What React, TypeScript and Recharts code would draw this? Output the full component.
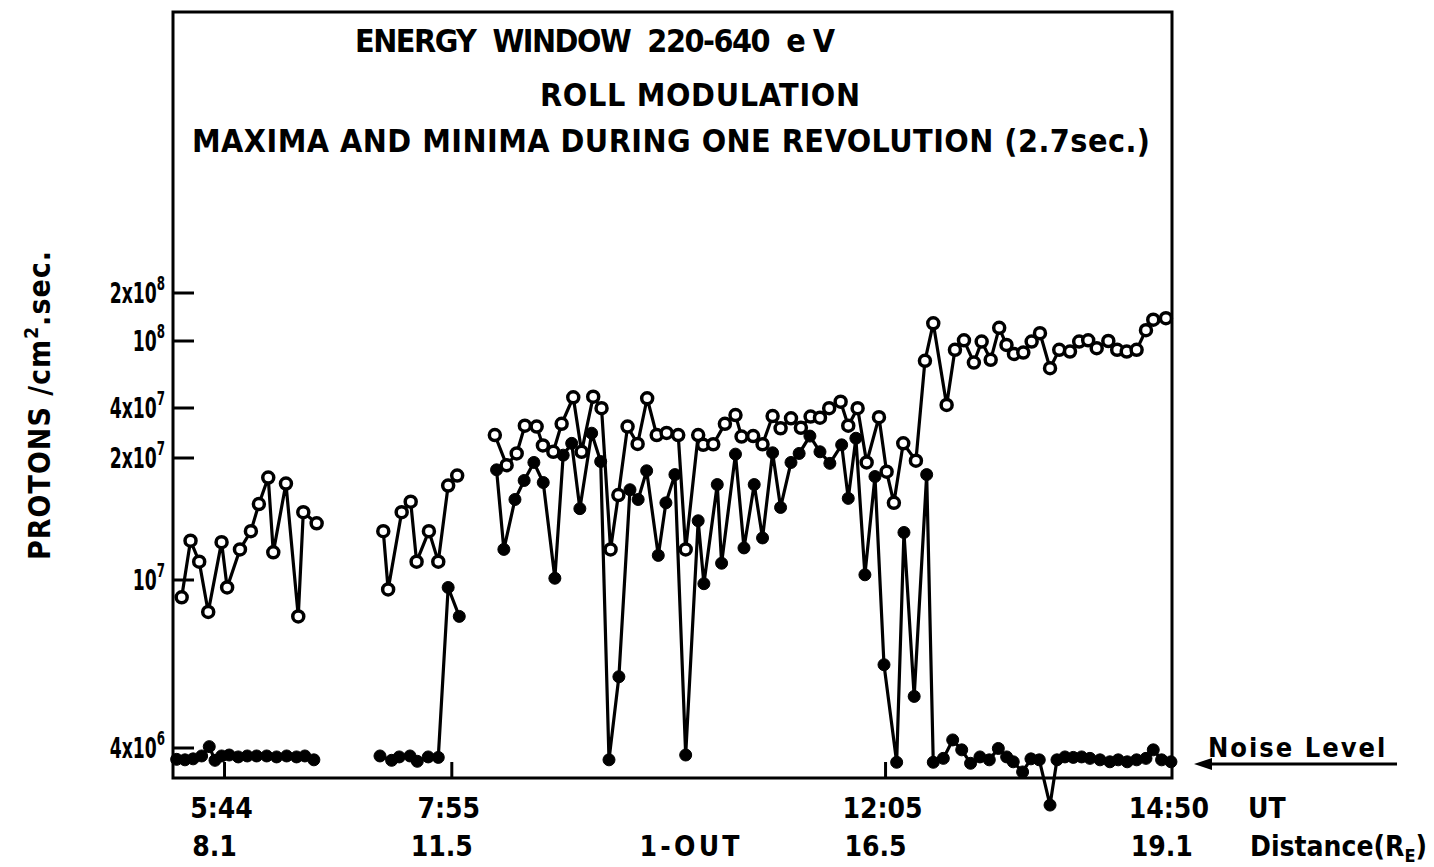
import { LineChart, Line, XAxis, YAxis, ReferenceArea, ReferenceLine } from 'recharts';

// flux in units of 10^6 protons / cm^2 sec, time in minutes UT
const MAX_TIME = [
  319.3, 324.4, 329.4, 334.6, 342.3, 345.5, 352.9, 359.2, 363.8, 369.2, 372.1, 379.4, 386.5, 389.4, 397.1,
  415,
  435.5, 438.3, 446.1, 451.3, 454.7, 461.8, 467.2, 472.9, 478.1,
  489,
  499.8, 506.6, 512.4, 517.1, 523.9, 527.5, 533.5, 538.3, 545.0, 549.8, 556.5, 561.3, 566.5, 571.0, 576.3,
  582.1, 587.6, 593.1, 598.8, 605.5, 609.8, 617.0, 619.9, 625.7, 632.4, 638.5, 642.0, 648.7, 654.1, 659.9,
  664.5, 670.5, 676.2, 681.8, 687.2, 692.5, 699.1, 703.5, 708.9, 714.1, 721.2, 725.6, 729.8, 735.2, 742.5,
  747.7, 752.5, 760.2, 765.0, 770.2, 775.9, 780.4, 785.6, 790.5, 794.7, 799.0, 804.4, 809.2, 814.0, 819.8,
  825.1, 831.3, 836.6, 841.8, 846.7, 853.4, 858.5, 864.0, 869.7, 875.1, 879.3, 886.6,
];
const MAX_FLUX = [
  9.1, 12.5, 11.1, 8.4, 12.4, 9.6, 11.9, 13.2, 15.4, 17.9, 11.7, 17.3, 8.2, 14.7, 13.8,
  null,
  13.2, 9.5, 14.7, 15.6, 11.1, 13.2, 11.1, 17.1, 18.1,
  null,
  27.5, 19.2, 21.3, 31.3, 30.9, 23.8, 21.8, 32.1, 46.3, 21.8, 46.7, 39.9, 11.9, 16.2, 30.9,
  24.3, 45.7, 27.5, 28.3, 27.5, 11.9, 27.5, 24.0, 24.2, 32.1, 36.3, 26.9, 27.1, 24.2, 35.8,
  30.2, 34.7, 30.4, 35.5, 35.0, 39.9, 43.6, 31.3, 39.9, 19.5, 35.2, 18.5, 15.5, 24.5, 19.7,
  76.2, 129, 41.7, 88.6, 101, 74.4, 99.2, 77.3, 121, 94.8, 83.8, 85.4, 99.2, 112, 68.9,
  88.6, 86.5, 99.2, 101, 90.7, 100, 88.6, 86.5, 88.6, 117, 136, 139,
];

const MIN_TIME = [
  316.4, 321.2, 325.9, 330.8, 335.2, 338.5, 342.3, 346.7, 351.9, 357.1, 362.5, 368.3, 374.0, 379.8, 385.5, 390.3, 395.5,
  415,
  433.6, 440.3, 444.7, 450.9, 455.1, 461.4, 467.2, 472.9, 479.3,
  489,
  500.8, 505.0, 511.4, 516.7, 522.3, 527.7, 534.4, 539.2, 544.1, 548.8, 555.6, 560.8, 565.6, 571.3, 577.7,
  582.4, 587.3, 594.0, 598.4, 603.6, 609.8, 617.0, 620.3, 628.0, 630.5, 638.5, 643.4, 649.3, 654.1, 659.9,
  664.5, 670.5, 675.2, 681.4, 687.2, 692.9, 699.7, 703.5, 707.9, 713.1, 718.9, 724.1, 731.4, 735.6, 741.5,
  748.7, 752.5, 758.3, 763.7, 768.9, 774.0, 779.4, 784.8, 790.0, 794.8, 798.6, 804.0, 808.8, 813.6, 819.8,
  823.8, 828.4, 833.2, 838.0, 842.8, 848.6, 854.3, 859.1, 864.3, 869.7, 875.1, 879.3, 884.1, 889.5,
];
const MIN_FLUX = [
  3.76, 3.75, 3.77, 3.83, 4.03, 3.74, 3.83, 3.85, 3.81, 3.83, 3.83, 3.83, 3.81, 3.83, 3.81, 3.83, 3.75,
  null,
  3.83, 3.74, 3.81, 3.83, 3.72, 3.81, 3.8, 9.6, 8.2,
  null,
  18.7, 11.9, 15.8, 17.6, 19.5, 17.4, 10.1, 20.8, 24.5, 15.0, 28.2, 19.6, 3.75, 5.9, 16.7,
  15.8, 18.6, 11.5, 15.5, 18.2, 3.85, 14.0, 9.8, 17.2, 11.0, 21.1, 12.0, 17.2, 12.7, 21.5,
  15.1, 19.5, 21.3, 27.1, 21.8, 19.4, 24.0, 15.9, 26.3, 10.3, 18.0, 6.3, 3.7, 13.1, 5.3,
  18.2, 3.7, 3.78, 4.18, 3.96, 3.68, 3.81, 3.75, 3.99, 3.81, 3.71, 3.51, 3.77, 3.75, 2.93,
  3.75, 3.81, 3.8, 3.81, 3.78, 3.75, 3.71, 3.75, 3.71, 3.75, 3.78, 3.96, 3.75, 3.71,
];

const FLUX_TICKS = [4, 10, 20, 40, 100, 200];
const TIME_TICKS = [344, 475, 612, 725, 890];
const TIME_LABELS = ['5:44', '7:55', '', '12:05', '14:50'];
const DIST_LABELS = ['8.1', '11.5', '1-OUT', '16.5', '19.1'];
const MARKED_TIMES = [344, 475, 725];

// the paper's flux axis is log-like but not uniform: where each tick sits (frame = 0..766)
const AXIS_STOPS = [30, 198, 320, 370, 437, 485];
const FRAME_TOP = 766;

function toAxis(v: number) {
  const lv = Math.log10(v);
  const logs = FLUX_TICKS.map((f) => Math.log10(f));
  let i = 0;
  while (i < logs.length - 2 && lv > logs[i + 1]) i++;
  const f = (lv - logs[i]) / (logs[i + 1] - logs[i]);
  return AXIS_STOPS[i] + f * (AXIS_STOPS[i + 1] - AXIS_STOPS[i]);
}

const maxData = MAX_TIME.map((t, i) => ({ t, y: MAX_FLUX[i] == null ? null : toAxis(MAX_FLUX[i] as number) }));
const minData = MIN_TIME.map((t, i) => ({ t, y: MIN_FLUX[i] == null ? null : toAxis(MIN_FLUX[i] as number) }));

const FONT = '"DejaVu Sans Condensed", "Liberation Sans Narrow", "DejaVu Sans", sans-serif';
const T_MIN = 314.3;
const T_MAX = 890.1;

function FluxTick({ x, y, payload }: any) {
  const i = AXIS_STOPS.findIndex((p) => Math.abs(p - payload.value) < 0.01);
  if (i < 0) return <g />;
  const v = FLUX_TICKS[i] * 1e6;
  const exp = Math.floor(Math.log10(v) + 1e-9);
  const mant = Math.round(v / Math.pow(10, exp));
  return (
    <g>
      <line x1={x} x2={x + 21} y1={y} y2={y} stroke="#000" strokeWidth={3} />
      {/* the hand lettering is narrow, so squeeze the label horizontally */}
      <text
        transform={`translate(${x - 8},${y + 10}) scale(0.66,1)`}
        textAnchor="end"
        fontFamily={FONT}
        fontWeight="bold"
        fontSize={29}
        fill="#000"
      >
        {mant === 1 ? '10' : `${mant}x10`}
        <tspan dy={-13} fontSize={20}>{exp}</tspan>
      </text>
    </g>
  );
}

function TimeTick({ x, y, payload }: any) {
  const i = TIME_TICKS.indexOf(payload.value);
  if (i < 0) return <g />;
  const time = TIME_LABELS[i];
  const style = { fontFamily: FONT, fontWeight: 'bold' as const, fontSize: 28, fill: '#000' };
  return (
    <g>
      {time && (
        <text x={x - 3} y={y + 6} textAnchor="middle" {...style}>{time}</text>
      )}
      {time ? (
        <text x={x - 10} y={y + 44} textAnchor="middle" {...style}>{DIST_LABELS[i]}</text>
      ) : (
        <text x={x} y={y + 44} textAnchor="middle" textLength={100} lengthAdjust="spacing" {...style}>
          {DIST_LABELS[i]}
        </text>
      )}
    </g>
  );
}

export default function App() {
  const txt = { fontFamily: FONT, fontWeight: 'bold' as const, fill: '#000' };
  return (
    <div style={{ position: 'absolute', left: 0, top: 0, width: 1434, height: 867, background: '#fff' }}>
      <LineChart width={1434} height={867} margin={{ top: 12, right: 262, bottom: 54, left: 172 }}>
        <XAxis
          type="number"
          dataKey="t"
          domain={[T_MIN, T_MAX]}
          ticks={TIME_TICKS}
          interval={0}
          height={1}
          tickSize={0}
          tickMargin={0}
          axisLine={false}
          tickLine={false}
          tick={<TimeTick />}
        />
        <YAxis
          type="number"
          domain={[-34, FRAME_TOP]}
          ticks={FLUX_TICKS.map(toAxis)}
          interval={0}
          width={1}
          tickSize={0}
          tickMargin={0}
          axisLine={false}
          tickLine={false}
          tick={<FluxTick />}
        />
        <ReferenceArea x1={T_MIN} x2={T_MAX} y1={0} y2={FRAME_TOP} fill="none" stroke="#000" strokeWidth={3} ifOverflow="visible" />
        {MARKED_TIMES.map((t) => (
          <ReferenceLine key={t} segment={[{ x: t, y: 0 }, { x: t, y: 16 }]} stroke="#000" strokeWidth={3} />
        ))}
        <Line
          data={maxData}
          dataKey="y"
          type="linear"
          stroke="#000"
          strokeWidth={3.2}
          dot={{ r: 5.5, fill: '#fff', stroke: '#000', strokeWidth: 3.5 }}
          activeDot={false}
          isAnimationActive={false}
        />
        <Line
          data={minData}
          dataKey="y"
          type="linear"
          stroke="#000"
          strokeWidth={3.2}
          dot={{ r: 6, fill: '#000', stroke: '#000', strokeWidth: 1 }}
          activeDot={false}
          isAnimationActive={false}
        />
      </LineChart>
      <svg width={1434} height={867} style={{ position: 'absolute', left: 0, top: 0, pointerEvents: 'none' }}>
        <text x={355} y={52} fontSize={32} textLength={480} lengthAdjust="spacing" style={{ whiteSpace: 'pre' }} {...txt}>
          ENERGY  WINDOW  220-640  e V
        </text>
        <text x={540} y={106} fontSize={32} textLength={320} lengthAdjust="spacing" {...txt}>ROLL MODULATION</text>
        <text x={192} y={152} fontSize={32} textLength={958} lengthAdjust="spacing" {...txt}>
          MAXIMA AND MINIMA DURING ONE REVOLUTION (2.7sec.)
        </text>
        <text transform="translate(50,405) rotate(-90)" textAnchor="middle" fontSize={30} letterSpacing={1} {...txt}>
          PROTONS /cm<tspan dy={-12} fontSize={19}>2</tspan><tspan dy={12}>.sec.</tspan>
        </text>
        <text x={1248} y={818} fontSize={28} {...txt}>UT</text>
        <text x={1250} y={856} fontSize={28} {...txt}>
          Distance(R<tspan dy={6} fontSize={18}>E</tspan><tspan dy={-6}>)</tspan>
        </text>
        <text x={1208} y={757} fontSize={27} letterSpacing={2} {...txt}>Noise Level</text>
        <line x1={1205} x2={1397} y1={764} y2={764} stroke="#000" strokeWidth={3} />
        <polygon points="1194,764 1212,758 1212,770" fill="#000" />
      </svg>
    </div>
  );
}
